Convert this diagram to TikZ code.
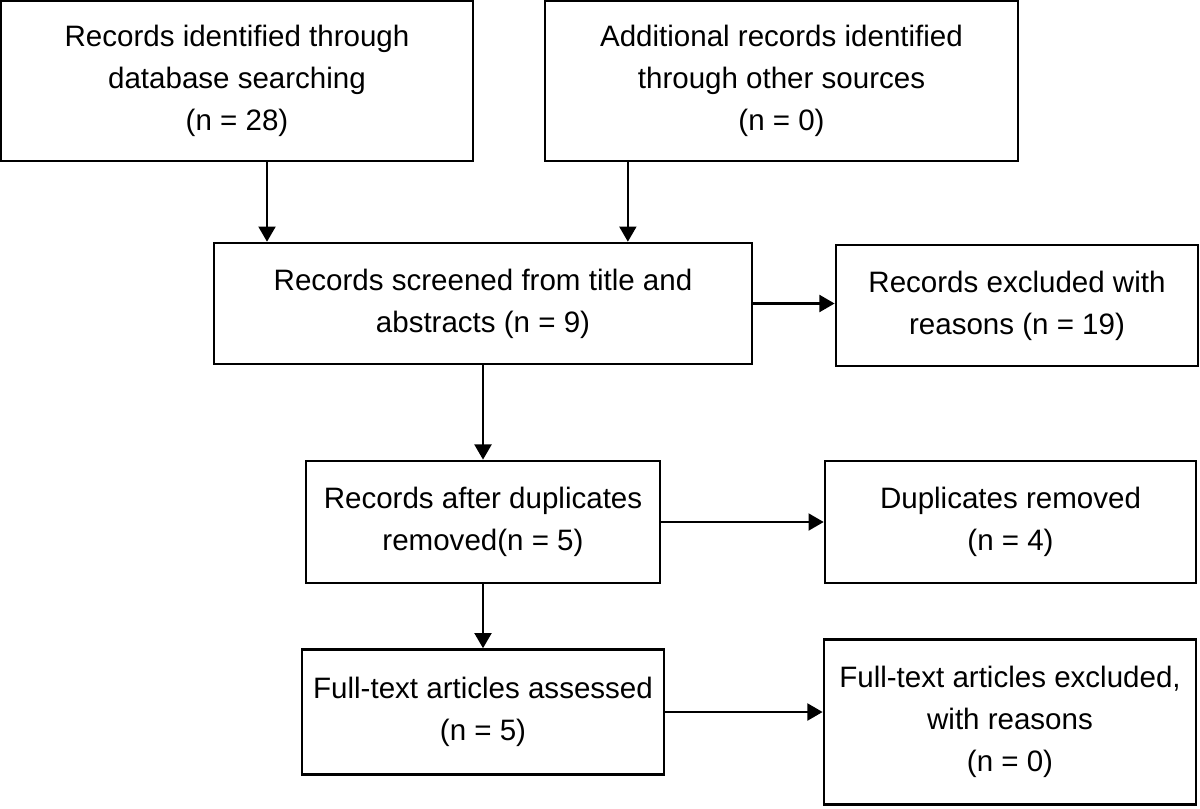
\documentclass[tikz,border=0pt]{standalone}
\usepackage{fontspec}
\setmainfont{Liberation Sans}
\usetikzlibrary{arrows.meta,positioning}

\begin{document}
\begin{tikzpicture}
  [x=0.025cm, y=-0.025cm,
   box/.style={draw, line width=1.9pt, align=center, inner sep=0pt,
               font=\fontsize{21}{29.9}\selectfont},
   post/.style={-{Triangle[length=0.38cm,width=0.42cm]}, line width=1.9pt}]

  \useasboundingbox (0,0) rectangle (1200,808);

  \node[box, minimum width=11.8cm,  minimum height=4cm]     (database)   at (237,81)
    {Records identified through\\database searching\\(n = 28)};
  \node[box, minimum width=11.82cm, minimum height=4cm]     (other)      at (781.5,81)
    {Additional records identified\\through other sources\\(n = 0)};
  \node[box, minimum width=13.45cm, minimum height=3.02cm]  (screened)   at (483,303.5)
    {Records screened from title and\\abstracts (n = 9)};
  \node[box, minimum width=9.05cm,  minimum height=3.02cm]  (excluded)   at (1017,305.5)
    {Records excluded with\\reasons (n = 19)};
  \node[box, minimum width=8.85cm,  minimum height=3.05cm]  (no dups)    at (483,522)
    {Records after duplicates\\removed(n = 5)};
  \node[box, minimum width=9.27cm,  minimum height=3.05cm]  (dups)       at (1010.5,522)
    {Duplicates removed\\(n = 4)};
  \node[box, minimum width=9.05cm,  minimum height=3.12cm]  (assessed)   at (483,712)
    {Full-text articles assessed\\(n = 5)};
  \node[box, minimum width=9.3cm,   minimum height=4.12cm]  (ft excluded) at (1010,722)
    {Full-text articles excluded,\\with reasons\\(n = 0)};

  \draw[post] ([xshift=0.75cm]database.south) -- ([xshift=0.75cm]database.south |- screened.north);
  \draw[post] ([xshift=-3.84cm]other.south)   -- ([xshift=-3.84cm]other.south |- screened.north);
  \draw[post] (screened.east) -- (screened.east -| excluded.west);
  \draw[post] (screened) -- (no dups);
  \draw[post] (no dups.east) -- (no dups.east -| dups.west);
  \draw[post] (no dups) -- (assessed);
  \draw[post] (assessed.east) -- (assessed.east -| ft excluded.west);
\end{tikzpicture}
\end{document}
